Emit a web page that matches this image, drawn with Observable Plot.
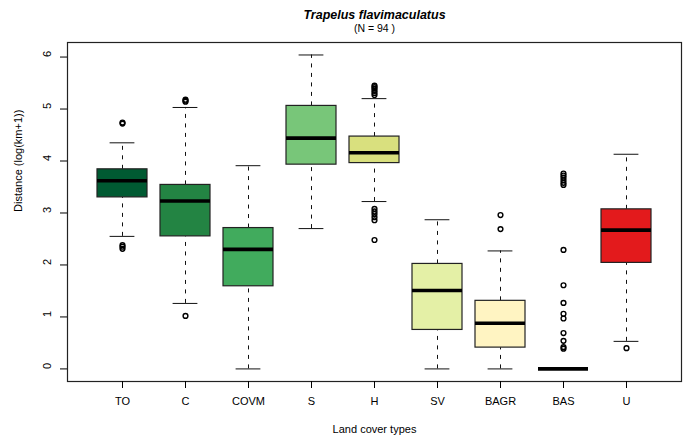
<!DOCTYPE html>
<html>
<head>
<meta charset="utf-8">
<script src="https://cdn.jsdelivr.net/npm/d3@7"></script>
<script src="https://cdn.jsdelivr.net/npm/@observablehq/plot@0.6"></script>
<style>
  html, body { margin: 0; padding: 0; background: white; }
</style>
</head>
<body>
<div id="chart"></div>
<script>
const categories = ["TO", "C", "COVM", "S", "H", "SV", "BAGR", "BAS", "U"];
const whiskerLow  = [2.55, 1.26, 0.00, 2.70, 3.22, 0.00, 0.00, 0.00, 0.53];
const quart1      = [3.30, 2.55, 1.59, 3.93, 3.96, 0.75, 0.41, 0.00, 2.04];
const medians     = [3.62, 3.23, 2.30, 4.44, 4.16, 1.51, 0.88, 0.00, 2.67];
const quart3      = [3.84, 3.54, 2.71, 5.06, 4.47, 2.02, 1.31, 0.00, 3.07];
const whiskerHigh = [4.35, 5.03, 3.91, 6.04, 5.20, 2.87, 2.27, 0.00, 4.13];
const boxColors   = ["#005a32", "#238443", "#41ab5d", "#78c679", "#d9e07e", "#e4f0a6", "#fff4c2", "#ffffff", "#e31a1c"];
const outliersTO   = [4.74, 4.72, 2.38, 2.35, 2.31];
const outliersC    = [5.18, 5.16, 5.14, 1.02];
const outliersCOVM = [];
const outliersS    = [];
const outliersH    = [5.45, 5.42, 5.39, 5.35, 5.31, 5.27, 3.08, 3.03, 2.98, 2.92, 2.86, 2.48];
const outliersSV   = [];
const outliersBAGR = [2.96, 2.69];
const outliersBAS  = [3.76, 3.72, 3.68, 3.63, 3.58, 3.54, 2.29, 1.61, 1.27, 1.06, 0.97, 0.69, 0.54, 0.42, 0.39];
const outliersU    = [0.40];
const yTicks = [0, 1, 2, 3, 4, 5, 6];

const title = "Trapelus flavimaculatus";
const subtitle = "(N = 94 )";
const xTitle = "Land cover types";
const yTitle = "Distance (log(km+1))";

const boxes = categories.map((cat, i) => ({
  cat, lo: whiskerLow[i], q1: quart1[i], med: medians[i], q3: quart3[i], hi: whiskerHigh[i], color: boxColors[i]
}));
const outlierLists = [outliersTO, outliersC, outliersCOVM, outliersS, outliersH, outliersSV, outliersBAGR, outliersBAS, outliersU];
const outliers = outlierLists.flatMap((arr, i) => arr.map(v => ({cat: categories[i], v})));

const capInset = 12.6;
const dash = "4,5.5";

const chart = Plot.plot({
  width: 689,
  height: 439,
  marginLeft: 67,
  marginRight: 8,
  marginTop: 42,
  marginBottom: 58,
  style: {fontFamily: "'Liberation Sans', Arial, Helvetica, sans-serif", fontSize: "11px", background: "white", color: "black"},
  x: {domain: categories, paddingInner: 0.2, paddingOuter: 0.46, label: null},
  y: {domain: [-0.242, 6.28], label: null},
  color: {type: "identity"},
  marks: [
    Plot.ruleX(boxes, {x: "cat", y1: "q3", y2: "hi", stroke: "#111", strokeDasharray: dash}),
    Plot.ruleX(boxes, {x: "cat", y1: "lo", y2: "q1", stroke: "#111", strokeDasharray: dash}),
    Plot.tickY(boxes, {x: "cat", y: "hi", stroke: "#111", insetLeft: capInset, insetRight: capInset}),
    Plot.tickY(boxes, {x: "cat", y: "lo", stroke: "#111", insetLeft: capInset, insetRight: capInset}),
    Plot.barY(boxes, {x: "cat", y1: "q1", y2: "q3", fill: "color", stroke: "#222", strokeWidth: 1.2}),
    Plot.tickY(boxes, {x: "cat", y: "med", stroke: "black", strokeWidth: 3.6}),
    Plot.dot(outliers, {x: "cat", y: "v", r: 2.4, stroke: "black", strokeWidth: 1.4, fill: "none"}),
    Plot.frame({stroke: "#222", strokeWidth: 1.2}),
    Plot.axisX({tickSize: 7, tickPadding: 9, label: null}),
    Plot.axisY({ticks: yTicks, tickSize: 7, tickFormat: () => "", label: null}),
    Plot.text(yTicks, {y: d => d, text: d => String(d), frameAnchor: "left", dx: -20, rotate: -90, fontSize: 11}),
    Plot.text([yTitle], {frameAnchor: "left", dx: -49, rotate: -90, fontSize: 11}),
    Plot.text([xTitle], {frameAnchor: "bottom", dy: 51, fontSize: 11}),
    Plot.text([title], {frameAnchor: "top", dy: -32, fontSize: 12.5, fontWeight: "bold", fontStyle: "italic"}),
    Plot.text([subtitle], {frameAnchor: "top", dy: -18, fontSize: 10.5})
  ]
});
document.getElementById("chart").appendChild(chart);
</script>
</body>
</html>
